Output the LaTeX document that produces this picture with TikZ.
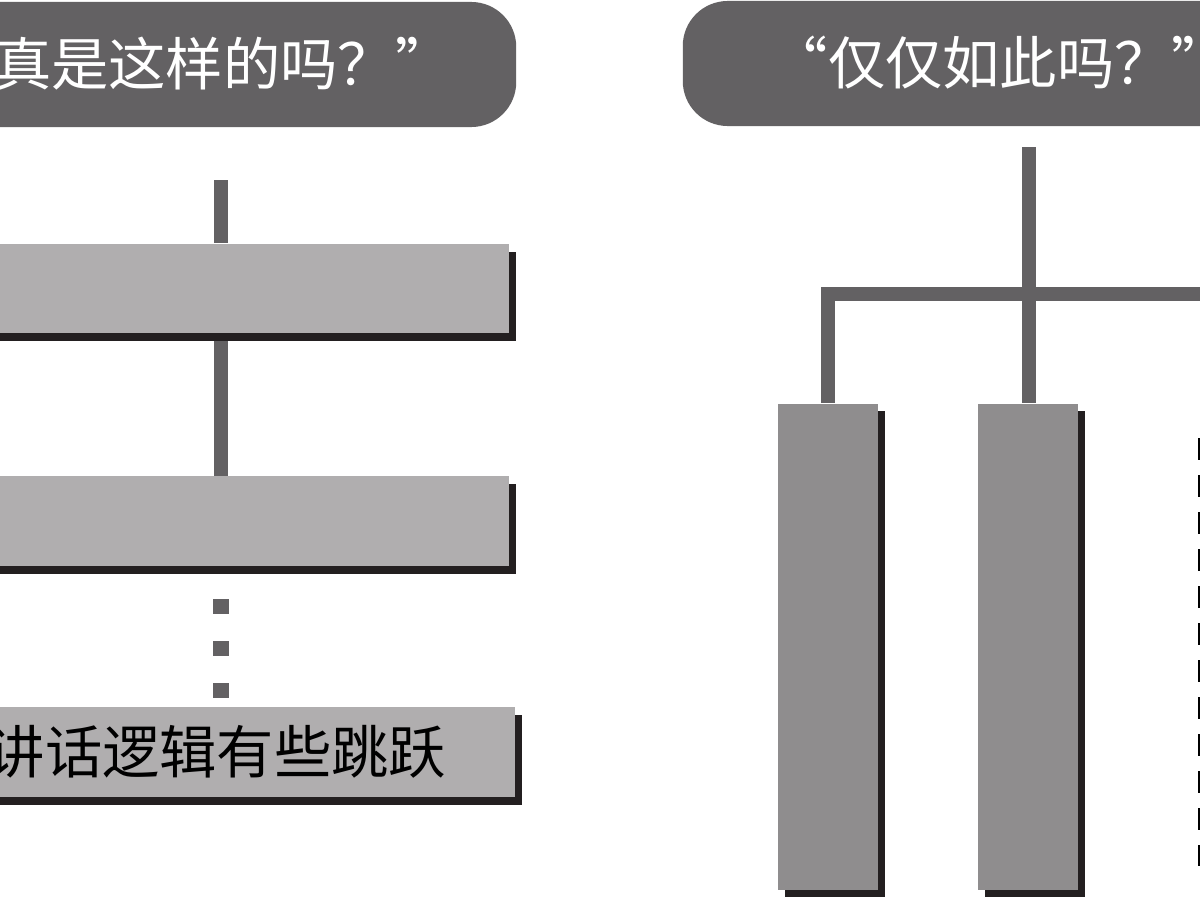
\documentclass[tikz,border=0pt]{standalone}
\usepackage{fontspec}
\newfontfamily\cjk{Noto Sans CJK SC}
\usetikzlibrary{shadows,backgrounds}
\definecolor{bubblegray}{RGB}{99,97,99}
\definecolor{boxlight}{RGB}{176,174,175}
\definecolor{boxdark}{RGB}{143,141,142}
\definecolor{shade}{RGB}{35,31,32}
\begin{document}
\begin{tikzpicture}[x=0.01cm,y=-0.01cm,
	bubble/.style={fill=bubblegray,rounded corners=0.45cm,inner sep=0pt,minimum height=1.25cm},
	qtext/.style={font=\cjk\fontsize{16.3pt}{18pt}\selectfont,inner sep=0pt},
	bar/.style={fill=boxlight,inner sep=0pt,minimum height=0.89cm,general shadow={fill=shade,shadow xshift=0.07cm,shadow yshift=-0.08cm}},
	pillar/.style={fill=boxdark,inner sep=0pt,minimum width=1cm,minimum height=4.86cm,general shadow={fill=shade,shadow xshift=0.07cm,shadow yshift=-0.07cm}},
	link/.style={draw=bubblegray,line width=0.14cm},
	dotbox/.style={fill=bubblegray,inner sep=0pt,minimum size=0.15cm}]
	\useasboundingbox (0,0) rectangle (1200,900);
	\clip (0,0) rectangle (1200,900);
	% question bubbles
	\node[bubble,minimum width=8.16cm] (qL) at (108,64.5) {};
	\node[qtext,text=white,anchor=west] (qLtext) at (-64,64) {“真是这样的吗？”};
	\node[bubble,minimum width=8.17cm] (qR) at (1091.5,63.5) {};
	\node[qtext,text=white,anchor=west] (qRtext) at (770,63) {“仅仅如此吗？”};
	% left column
	\node[bar,minimum width=6.09cm] (bar1) at (204.5,288.5) {};
	\node[bar,minimum width=6.09cm] (bar2) at (204.5,521) {};
	\node[bar,minimum width=6.15cm] (bar3) at (207.5,752) {};
	\node[qtext,anchor=west] (bar3text) at (-13,752) {讲话逻辑有些跳跃};
	\foreach \y/\n in {606/1,648/2,690/3}
		\node[dotbox] (dot\n) at (221,\y) {};
	% right column
	\node[pillar] (pillA) at (828,647) {};
	\node[pillar] (pillB) at (1028,647) {};
	\draw[shade,line width=0.03cm,dash pattern=on 0.22cm off 0.15cm] (1199,438) -- (1199,866);
	\begin{scope}[on background layer]
		\coordinate (topL) at (221,180);
		\draw[link] (topL) -- (topL |- bar1.north);
		\draw[link] (bar1.south -| topL) -- (bar2.north -| topL);
		\coordinate (topR) at (1029,147);
		\coordinate (barR) at (1300,294);
		\draw[link] (topR) -- (topR |- pillB.north);
		\draw[link] (barR) -| (pillA.north);
	\end{scope}
\end{tikzpicture}
\end{document}
